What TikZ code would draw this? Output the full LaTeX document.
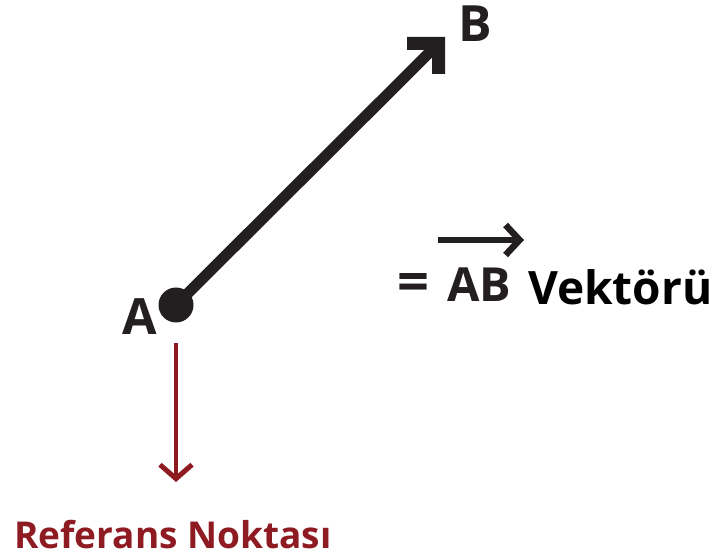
\documentclass[tikz,border=0pt]{standalone}
\usepackage{fontspec}
\setmainfont{Open Sans}
\usetikzlibrary{arrows.meta}
\definecolor{ink}{RGB}{35,31,32}
\definecolor{refred}{RGB}{142,27,34}
\begin{document}
\begin{tikzpicture}[x=1pt,y=1pt,
  lbl/.style={inner sep=0pt,anchor=base west,text=ink,font=\bfseries\fontsize{50}{52}\selectfont},
  shaft/.style={draw=ink,line width=11pt},
  redarrow/.style={draw=refred,line width=4.5pt,-{Straight Barb[length=14pt,width=32pt,line width=5pt]}},
  overarrow/.style={draw=ink,line width=6.5pt,-{Straight Barb[length=14pt,width=30pt,line width=6.5pt]}}]
\useasboundingbox (0,0) rectangle (714,557);
% dot at A
\node[circle,fill=ink,minimum size=35pt,inner sep=0pt] (dot) at (176,252) {};
\coordinate (tipB) at (445,520);
\coordinate (shaftend) at (438,513);
\draw[shaft] (dot.center) -- (shaftend);
\fill[ink] (tipB) ++(-38,0) -- (tipB) -- ++(0,-37) -- ++(-13,0) -- ++(0,24) -- ++(-25,0) -- cycle;
% labels
\node[lbl] (A) at (122,222) {A};
\node[lbl] (B) at (458,515) {B};
\node[lbl,font=\bfseries\fontsize{56}{58}\selectfont] (eq) at (397,255) {=};
\node[lbl,font=\bfseries\fontsize{47}{49}\selectfont] (AB) at (447,255) {AB};
\coordinate (ovs) at (438,317);
\coordinate (ove) at (524,317);
\draw[overarrow] (ovs) -- (ove);
\node[lbl,text=black,font=\bfseries\fontsize{46}{48}\selectfont] (vek) at (528,252) {Vektörü};
% reference arrow
\coordinate (rs) at (176,214);
\coordinate (re) at (176,75);
\draw[redarrow] (rs) -- (re);
\node[lbl,text=refred,font=\bfseries\fontsize{37}{39}\selectfont] (ref) at (14,9) {Referans Noktası};
\end{tikzpicture}
\end{document}
